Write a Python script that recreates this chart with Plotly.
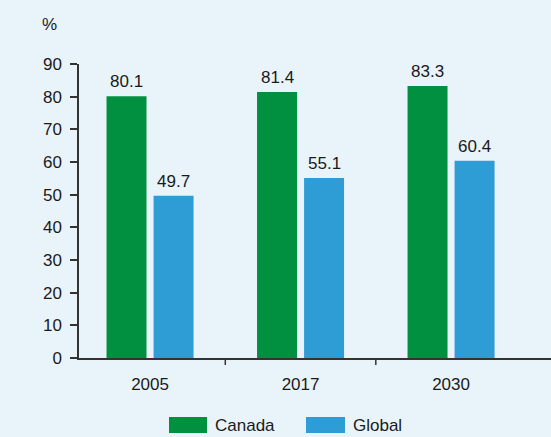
import plotly.graph_objects as go

years = ["2005", "2017", "2030"]
canada = [80.1, 81.4, 83.3]
global_vals = [49.7, 55.1, 60.4]
series_names = ["Canada", "Global"]
y_ticks = [0, 10, 20, 30, 40, 50, 60, 70, 80, 90]

GREEN = "#00903f"
BLUE = "#2e9cd5"
BG = "#e9f4fa"
FONT = "Liberation Sans, Arial, Helvetica, sans-serif"
TXT = "#1a1a1a"
FS = 17

W, H = 551, 437
L, R, T, B = 79, 0, 64, 79
pw, ph = W - L - R, H - T - B

fig = go.Figure()
for name, vals, col in [(series_names[0], canada, GREEN), (series_names[1], global_vals, BLUE)]:
    fig.add_trace(go.Bar(
        name=name, x=years, y=vals, marker=dict(color=col, line=dict(width=0)),
        showlegend=False, hoverinfo="x+y+name",
    ))

def px(x):
    return (x - L) / pw

def py(y):
    return (H - B - y) / ph

shapes = []
for xv in [0.5, 1.5]:
    shapes.append(dict(type="line", xref="x", yref="paper", x0=xv, x1=xv, y0=0, y1=-7 / ph,
                       line=dict(color="#333333", width=1.5)))
for x0, x1, col in [(169, 207, GREEN), (306, 345, BLUE)]:
    shapes.append(dict(type="rect", xref="paper", yref="paper", x0=px(x0), x1=px(x1),
                       y0=py(433), y1=py(417), fillcolor=col, line=dict(width=0)))

annotations = [
    dict(text="%", xref="paper", yref="paper", x=px(49), y=py(24), showarrow=False,
         xanchor="center", yanchor="middle", font=dict(size=FS, color=TXT, family=FONT)),
    dict(text=series_names[0], xref="paper", yref="paper", x=px(213), y=py(425), showarrow=False,
         xanchor="left", yanchor="middle", font=dict(size=FS, color=TXT, family=FONT)),
    dict(text=series_names[1], xref="paper", yref="paper", x=px(351), y=py(425), showarrow=False,
         xanchor="left", yanchor="middle", font=dict(size=FS, color=TXT, family=FONT)),
]
# value labels above bars
for vals, shift in [(canada, -23.5), (global_vals, 23.5)]:
    for i, v in enumerate(vals):
        annotations.append(dict(text=f"{v:.1f}", x=i, y=v, xref="x", yref="y", showarrow=False,
                                xanchor="center", yanchor="bottom", xshift=shift, yshift=3,
                                font=dict(size=FS, color=TXT, family=FONT)))

fig.update_layout(
    width=W, height=H,
    margin=dict(l=L, r=R, t=T, b=B, pad=0),
    paper_bgcolor=BG, plot_bgcolor=BG,
    barmode="group", bargap=0.375, bargroupgap=0.15,
    font=dict(family=FONT, size=FS, color=TXT),
    shapes=shapes, annotations=annotations,
    xaxis=dict(type="category", range=[-0.472, 2.664], showgrid=False, zeroline=False,
               showline=True, linecolor="#333333", linewidth=1.5, ticks="",
               tickfont=dict(size=FS, color=TXT, family=FONT), ticklabelstandoff=10),
    yaxis=dict(range=[0, 90], tickvals=y_ticks, showgrid=False, zeroline=False,
               showline=True, linecolor="#333333", linewidth=1.5, ticks="outside",
               ticklen=7, tickwidth=1.5, tickcolor="#333333",
               tickfont=dict(size=FS, color=TXT, family=FONT), ticklabelstandoff=5),
)

fig.write_html("out.html", config={"displayModeBar": False},
               post_script="document.body.style.margin='0';document.body.style.background='" + BG + "';")
